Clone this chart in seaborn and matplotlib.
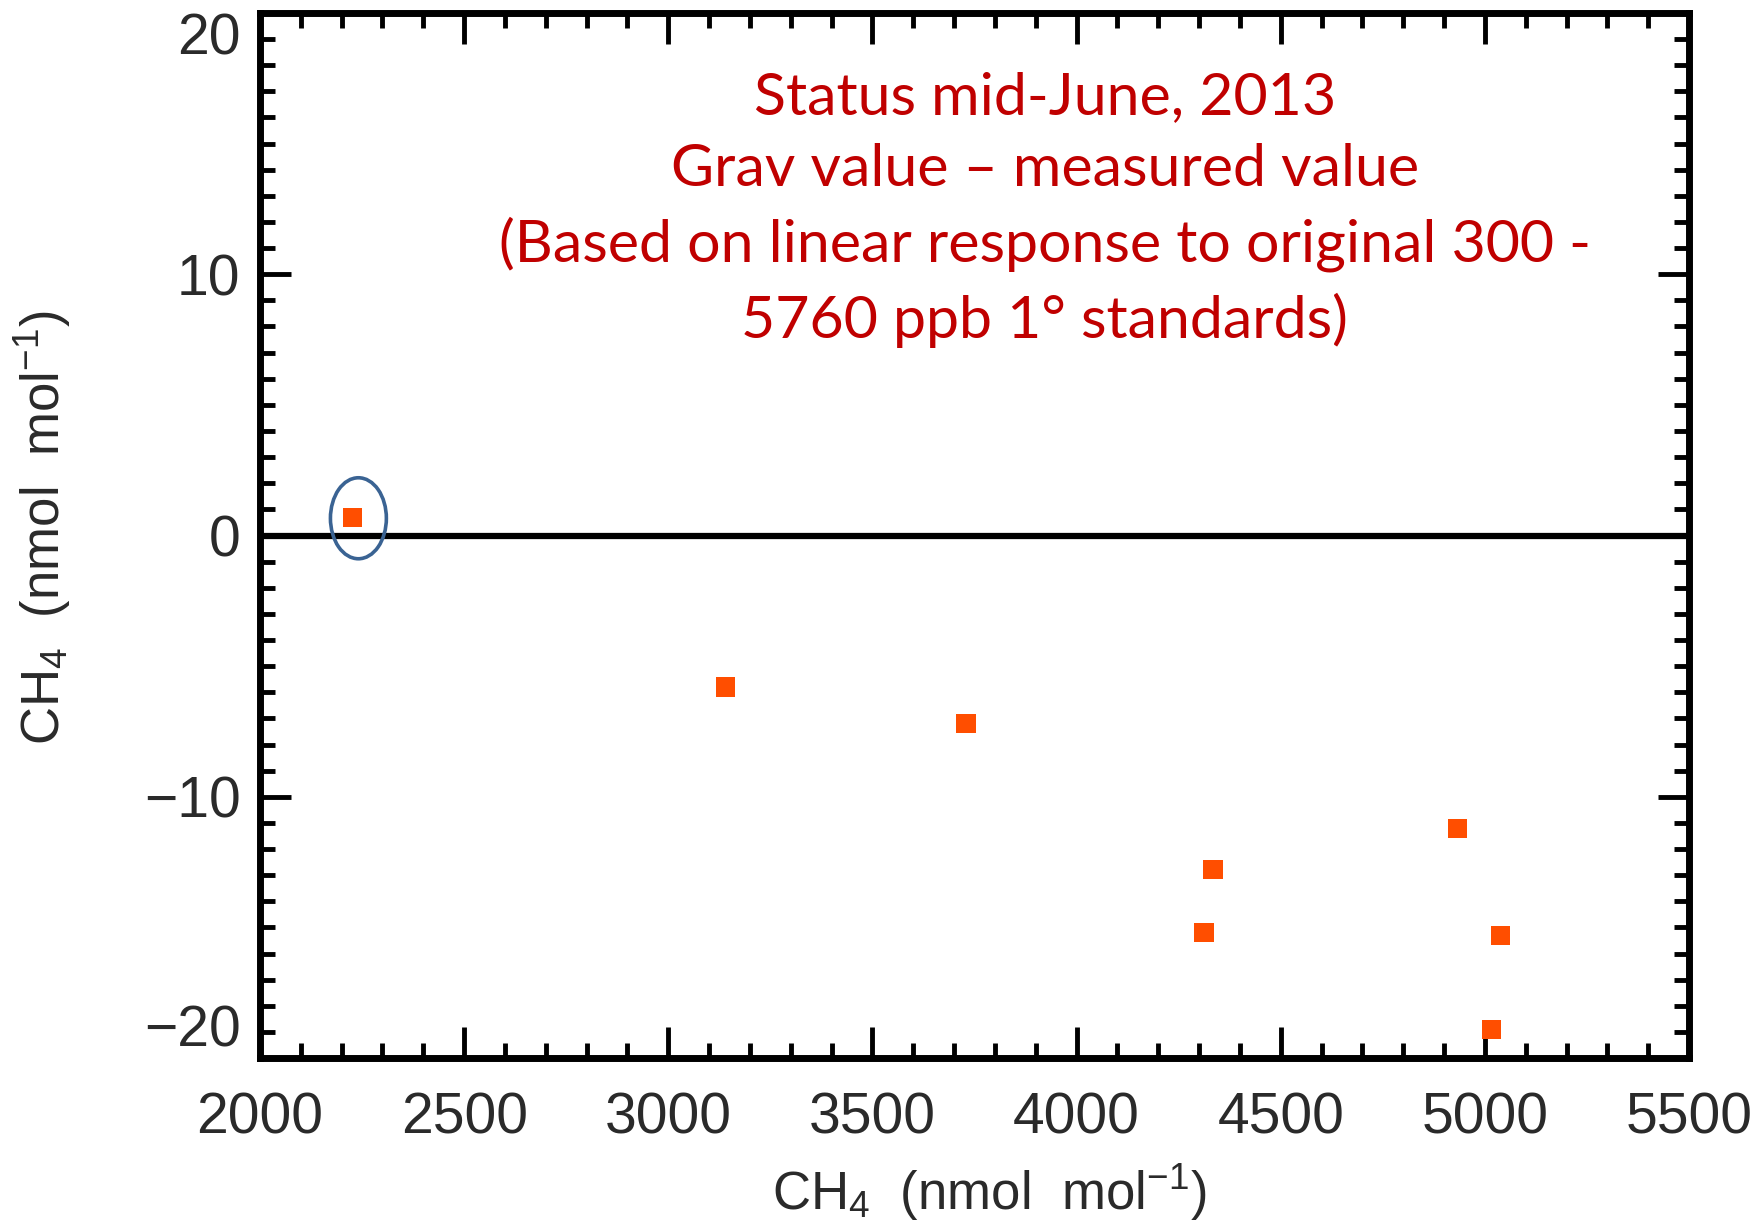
import numpy as np
import pandas as pd
import matplotlib
matplotlib.use("Agg")
import matplotlib.pyplot as plt
import seaborn as sns
from matplotlib.patches import Ellipse
from matplotlib.ticker import MultipleLocator

# ---- data ----
x_ch4 = [2227, 3141, 3729, 4334, 4312, 4933, 5038, 5016]
y_diff = [0.7, -5.8, -7.2, -12.8, -15.2, -11.2, -15.3, -18.9]
x_ticks = [2000, 2500, 3000, 3500, 4000, 4500, 5000, 5500]
y_ticks = [-20, -10, 0, 10, 20]
annotation_lines = [
    "Status mid-June, 2013",
    "Grav value \u2013 measured value",
    "(Based on linear response to original 300 -",
    "5760 ppb 1\u00b0 standards)",
]
axis_label = r"CH$_4$  (nmol  mol$^{-1}$)"

sns.set_theme(style="white")
plt.rcParams['font.family'] = ['Liberation Sans', 'DejaVu Sans']
plt.rcParams['mathtext.fontset'] = 'custom'
plt.rcParams['mathtext.rm'] = 'Liberation Sans'
plt.rcParams['mathtext.it'] = 'Liberation Sans'

fig = plt.figure(figsize=(17.52, 12.25), dpi=100)
ax = fig.add_axes([0.1484, 0.1363, 0.8157, 0.8531])

df = pd.DataFrame({"x": x_ch4, "y": y_diff})
sns.scatterplot(data=df, x="x", y="y", marker="s", s=190, color="#FF4E00",
                edgecolor="none", linewidth=0, ax=ax, zorder=3)
ax.axhline(0, color="black", lw=4.5, zorder=2)
ax.add_patch(Ellipse((x_ch4[0] + 14, y_diff[0] - 0.04), 137, 3.1, fill=False,
                     edgecolor="#3A6393", lw=2.6, zorder=4))

ax.set_xlim(2000, 5500)
ax.set_ylim(-20, 20)
ax.set_xticks(x_ticks)
ax.set_yticks(y_ticks)
ax.set_yticklabels(["\u221220", "\u221210", "0", "10", "20"])
ax.xaxis.set_minor_locator(MultipleLocator(100))
ax.yaxis.set_minor_locator(MultipleLocator(1))

for sp in ax.spines.values():
    sp.set_visible(True)
    sp.set_color("black")
    sp.set_linewidth(5)

ax.tick_params(which="both", direction="in", top=True, right=True,
               bottom=True, left=True, color="black")
ax.tick_params(which="major", length=22, width=3.5, labelsize=41,
               labelcolor="#2a2a2a")
ax.tick_params(which="minor", length=11, width=3.5)
ax.tick_params(axis="x", which="major", pad=24)
ax.tick_params(axis="y", which="major", pad=14)

ylabs = ax.get_yticklabels()
ylabs[-1].set_va("top")
ylabs[0].set_va("bottom")

ax.set_xlabel(axis_label, fontsize=38, color="#2a2a2a")
ax.set_ylabel(axis_label, fontsize=38, color="#2a2a2a")
ax.xaxis.set_label_coords(0.51, -0.129)
ax.xaxis.label.set_va("center")
ax.yaxis.set_label_coords(-0.152, 0.507)
ax.yaxis.label.set_va("center")

fig.text(0.5964, 0.829, "\n".join(annotation_lines), ha="center", va="center",
         color="#C00000", fontsize=42.5, family=["Lato", "DejaVu Sans"],
         linespacing=1.45)

fig.savefig("out.png", dpi=100)
